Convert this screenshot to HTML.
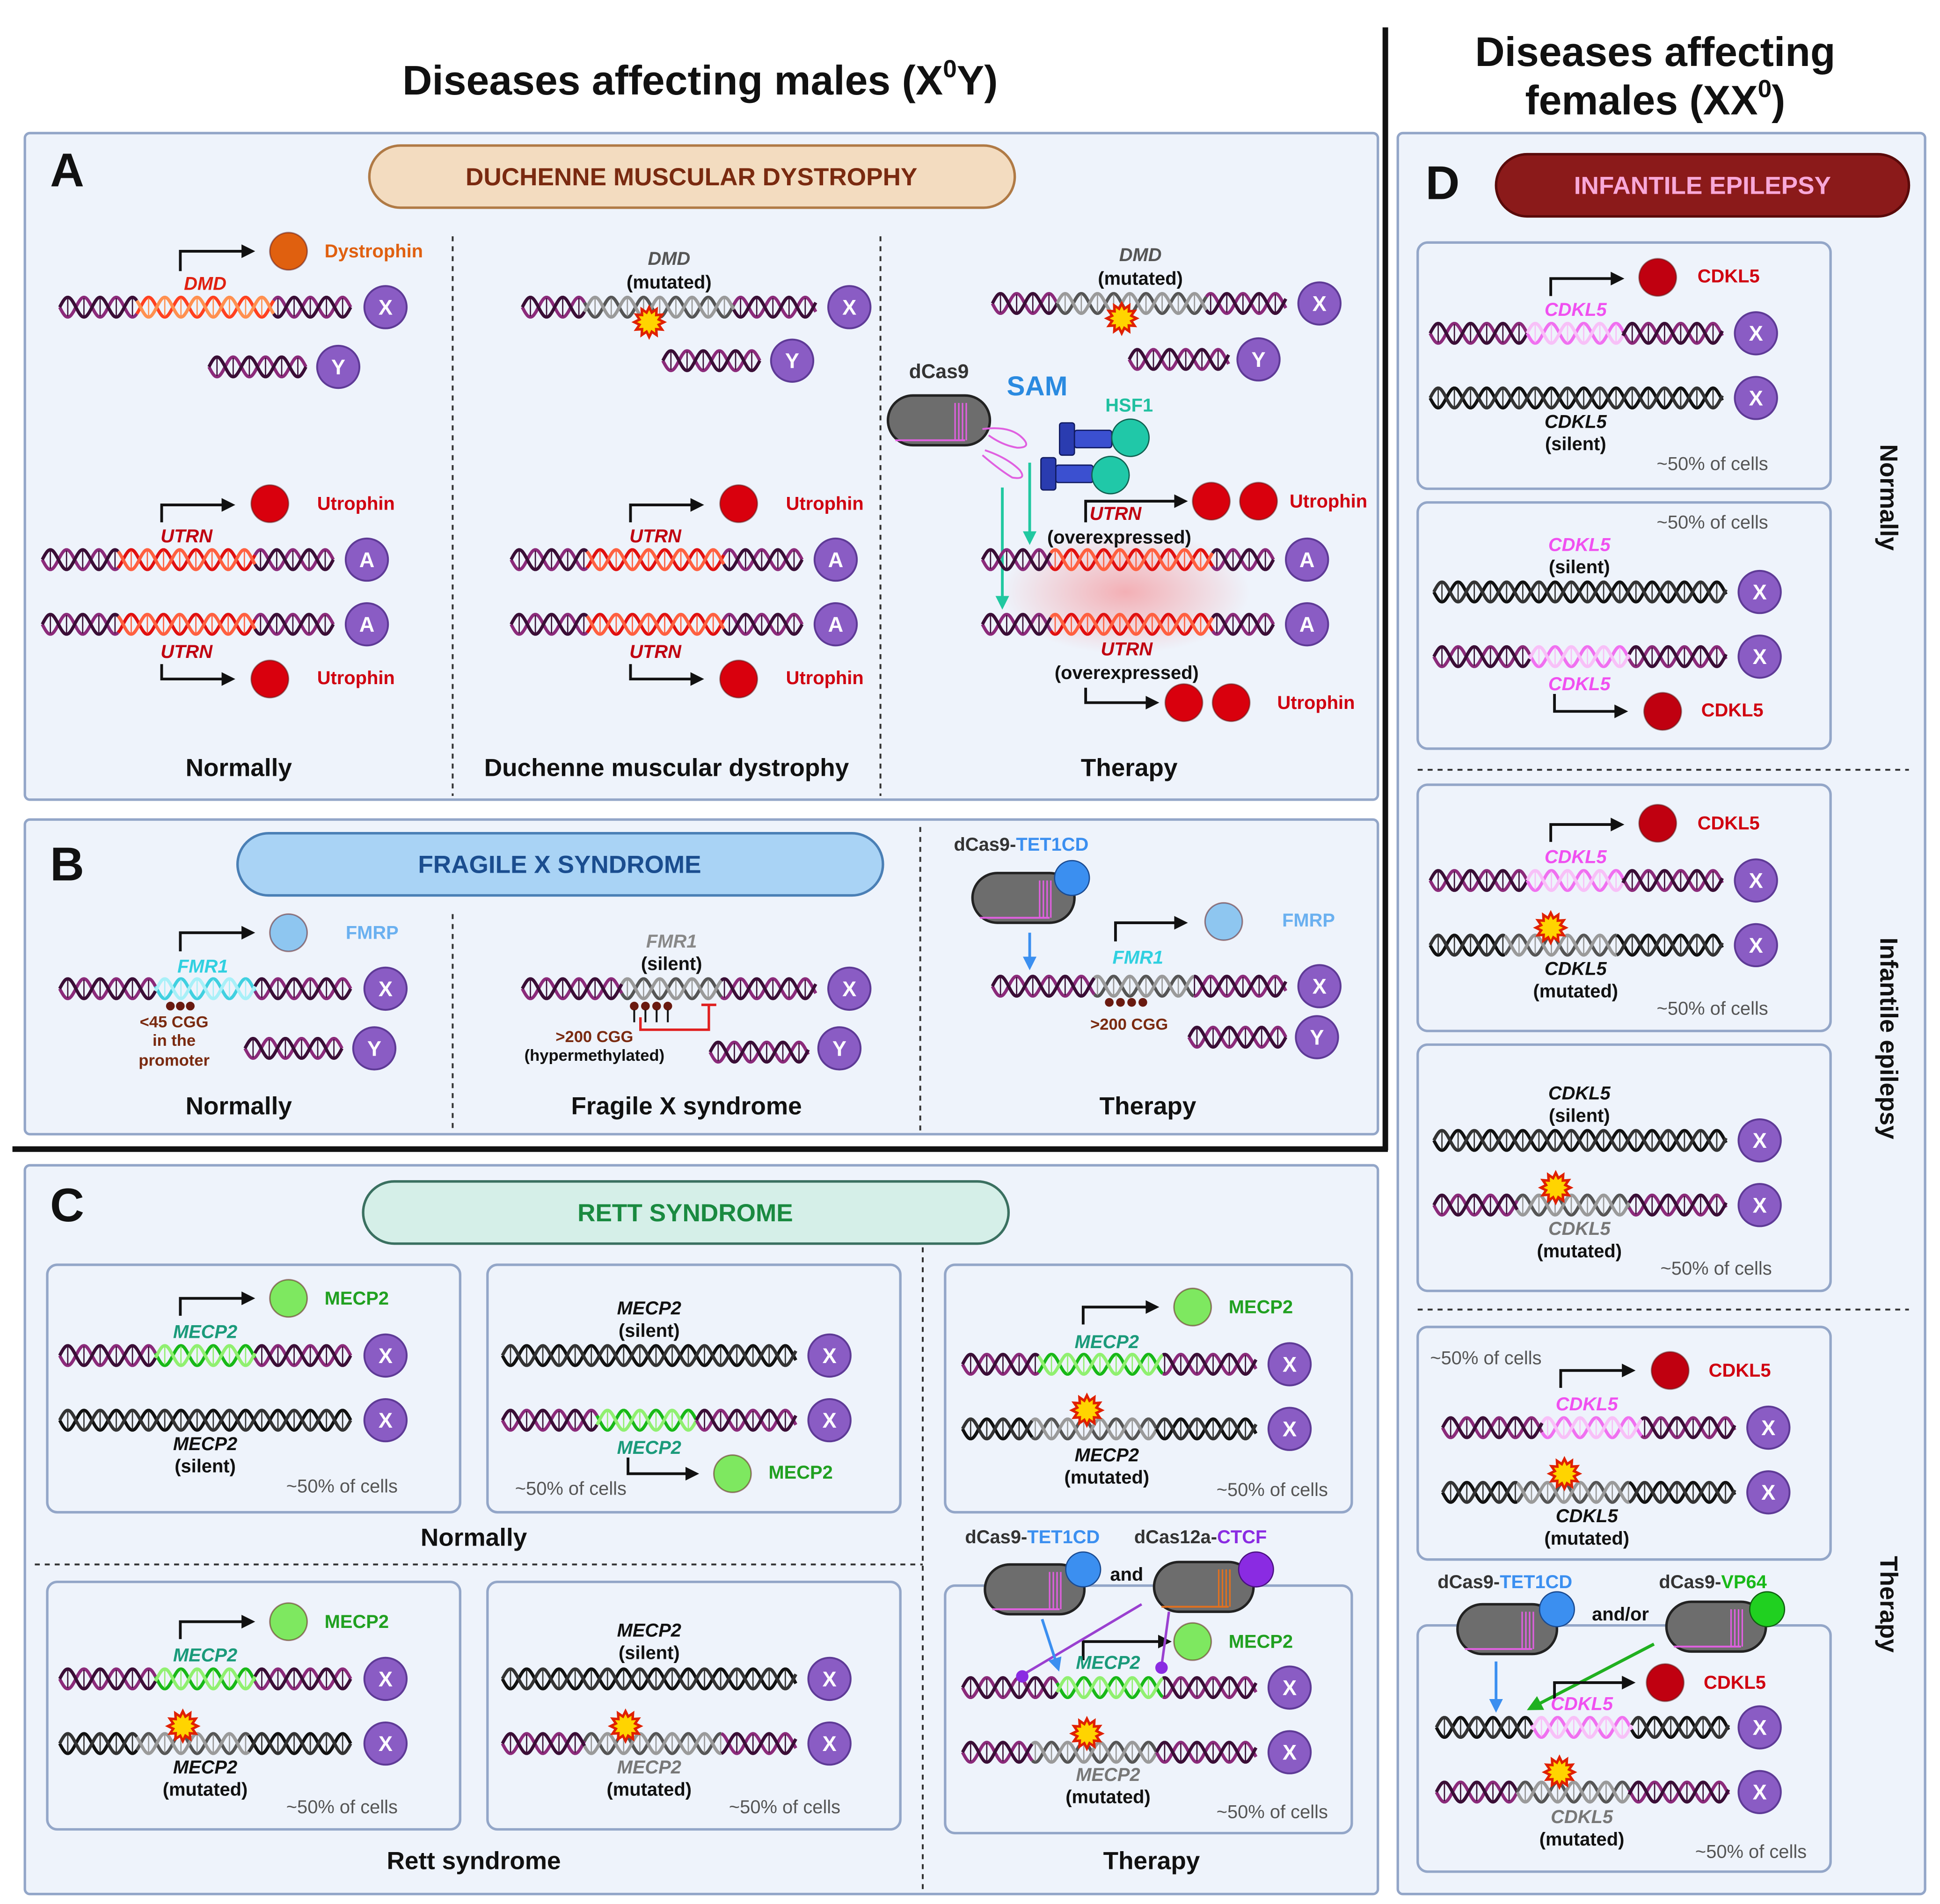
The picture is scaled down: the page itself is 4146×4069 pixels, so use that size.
<!DOCTYPE html>
<html><head><meta charset="utf-8">
<style>
html,body{margin:0;padding:0;background:#fff;}
svg{display:block;}
text{font-family:"Liberation Sans",sans-serif;}
</style></head>
<body>
<svg id="s" xmlns="http://www.w3.org/2000/svg" width="4146" height="4069" viewBox="0 0 1560 1531">
<defs>
<radialGradient id="glow"><stop offset="0" stop-color="#ff2020" stop-opacity="0.32"/><stop offset="1" stop-color="#ff2020" stop-opacity="0"/></radialGradient>
<marker id="ah" viewBox="0 0 10 10" refX="8" refY="5" markerWidth="5" markerHeight="5" orient="auto"><path d="M0 0L10 5L0 10z" fill="#111"/></marker>
<marker id="ahT" viewBox="0 0 10 10" refX="8" refY="5" markerWidth="5" markerHeight="5" orient="auto"><path d="M0 0L10 5L0 10z" fill="#20c8a0"/></marker>
<marker id="ahB" viewBox="0 0 10 10" refX="8" refY="5" markerWidth="5" markerHeight="5" orient="auto"><path d="M0 0L10 5L0 10z" fill="#3b8ff0"/></marker>
<marker id="ahG" viewBox="0 0 10 10" refX="8" refY="5" markerWidth="5" markerHeight="5" orient="auto"><path d="M0 0L10 5L0 10z" fill="#20b020"/></marker>
</defs>
<g id="g"></g>
</svg>
<script>
const G=document.getElementById('g');let H='';
function add(s){H+=s;}
function rect(x,y,w,h,r,fill,stroke,sw){add(`<rect x="${x}" y="${y}" width="${w}" height="${h}" rx="${r}" fill="${fill}" stroke="${stroke||'none'}" stroke-width="${sw||1.5}"/>`);}
function line(x1,y1,x2,y2,c,w,dash,mk){add(`<line x1="${x1}" y1="${y1}" x2="${x2}" y2="${y2}" stroke="${c}" stroke-width="${w}" ${dash?`stroke-dasharray="${dash}"`:''} ${mk?`marker-end="url(#${mk})"`:''}/>`);}
function t(x,y,s,o={}){const sz=o.s||15,c=o.c||'#111',w=o.w===undefined?'bold':o.w,st=o.i?'italic':'normal',a=o.a||'middle';add(`<text x="${x}" y="${y}" font-size="${sz}" fill="${c}" font-weight="${w}" font-style="${st}" text-anchor="${a}" ${o.tr?`transform="${o.tr}"`:''}>${s}</text>`);}
const COL={p:['#8b2a7a','#3a0e36'],k:['#111','#333'],r:['#e01010','#ff6040'],o:['#ff4020','#ff9050'],g:['#18b818','#90f070'],pk:['#f070f0','#f8c0f8'],gr:['#555','#9a9a9a'],c:['#40d0e0','#a8f0f8']};
function dna(x1,x2,y,base,segs){segs=segs||[];const P=26,A=8;let iv=[];let cur=x1;segs.sort((a,b)=>a[0]-b[0]);for(const s of segs){if(s[0]>cur)iv.push([cur,s[0],base]);iv.push(s);cur=s[1];}if(cur<x2)iv.push([cur,x2,base]);
for(const [a,b,c] of iv){const cc=COL[c];for(let k=0;k<2;k++){const sg=k?-1:1;let d='';for(let x=a;x<=b;x+=1){const yy=y+sg*A*Math.sin(2*Math.PI*(x-x1)/P);d+=(x==a?'M':'L')+x.toFixed(1)+' '+yy.toFixed(1);}add(`<path d="${d}" fill="none" stroke="${cc[k]}" stroke-width="2.6"/>`);}
for(let x=Math.ceil((a-x1)/6.5)*6.5+x1;x<=b;x+=6.5){const ph=Math.sin(2*Math.PI*(x-x1)/P);if(Math.abs(ph)>0.35)add(`<line x1="${x}" y1="${y-A*ph*0.9}" x2="${x}" y2="${y+A*ph*0.9}" stroke="${COL[c][1]}" stroke-width="1"/>`);}}}
function chrom(x,y,l){add(`<circle cx="${x}" cy="${y}" r="17" fill="#8a5cc4" stroke="#5e3a96" stroke-width="1.5"/>`);t(x,y+6,l,{s:17,c:'#fff'});}
function prot(x,y,c,r){add(`<circle cx="${x}" cy="${y}" r="${r||15}" fill="${c}" stroke="#5a1010" stroke-opacity="0.5" stroke-width="1.2"/>`);}
function arrUp(x,yb,yt,xe){add(`<path d="M${x} ${yb}V${yt}H${xe}" fill="none" stroke="#111" stroke-width="2.2" marker-end="url(#ah)"/>`);}
function arrDn(x,yt,yb,xe){add(`<path d="M${x} ${yt}V${yb}H${xe}" fill="none" stroke="#111" stroke-width="2.2" marker-end="url(#ah)"/>`);}
function star(x,y){let d='';for(let i=0;i<24;i++){const r=i%2?8:12,a=Math.PI*i/12;d+=(i?'L':'M')+(x+r*Math.cos(a)).toFixed(1)+' '+(y+r*Math.sin(a)).toFixed(1);}add(`<path d="${d}Z" fill="#ffd400" stroke="#e02000" stroke-width="2"/>`);}
function caps(x,y,w,h,gc){rect(x,y,w,h,h/2,'#6d6d6d','#222',2);for(let i=0;i<4;i++)line(x+w-28+i*3,y+6,x+w-28+i*3,y+h-4,gc||'#e060e0',1.2);line(x+6,y+h-4,x+w-20,y+h-4,gc||'#e060e0',1.5);}
const SUB='#eef3fb',SST='#93a6c8';

t(563,76,'Diseases affecting males (X<tspan font-size="20" dy="-14">0</tspan><tspan dy="14">Y)</tspan>',{s:33});
t(1331,53,'Diseases affecting',{s:33});
t(1331,92,'females (XX<tspan font-size="20" dy="-14">0</tspan><tspan dy="14">)</tspan>',{s:33});
rect(20,107,1088,536,4,'#eef3fb',SST,2);
rect(20,659,1088,253,4,'#eef3fb',SST,2);
rect(20,937,1088,586,4,'#eef3fb',SST,2);
rect(1124,107,424,1416,4,'#eef3fb',SST,2);
line(1114,22,1114,925,'#111',4.5);line(10,924,1116,924,'#111',4.5);
rect(297,117,519,50,25,'#f3dcc0','#b07a45',2);t(556,149,'DUCHENNE MUSCULAR DYSTROPHY',{s:20,c:'#7a2a10'});
rect(191,670,519,50,25,'#a9d3f5','#4a7fb5',2);t(450,702,'FRAGILE X SYNDROME',{s:20,c:'#1a4d8f'});
rect(292,950,519,50,25,'#d5efe8','#3a7060',2);t(551,982,'RETT SYNDROME',{s:20,c:'#1a8a40'});
rect(1203,124,332,50,25,'#8b1a1a','#5a0a0a',2);t(1369,156,'INFANTILE EPILEPSY',{s:20,c:'#f8a8d8'});
t(54,150,'A',{s:38});t(54,708,'B',{s:38});t(54,982,'C',{s:38});t(1160,160,'D',{s:38});
line(364,190,364,640,'#333',1.5,'4,4');line(708,190,708,640,'#333',1.5,'4,4');
line(364,735,364,910,'#333',1.5,'4,4');line(740,665,740,910,'#333',1.5,'4,4');
line(742,1003,742,1520,'#333',1.5,'4,4');line(28,1258,742,1258,'#333',1.5,'4,4');
line(1140,619,1535,619,'#333',1.5,'4,4');line(1140,1053,1535,1053,'#333',1.5,'4,4');

arrUp(145,218,202,203);prot(232,202,'#e0600f');t(261,207,'Dystrophin',{s:15,c:'#e06010',a:'start'});
t(165,233,'DMD',{i:1,c:'#e02010'});dna(48,282,247,'p',[[110,220,'o']]);chrom(310,247,'X');
dna(168,246,295,'p');chrom(272,295,'Y');
function utr(dx,dy){arrUp(130+dx,420,406,187+dx);prot(217+dx,405,'#d9000d');t(255+dx,410,'Utrophin',{s:15,c:'#d00010',a:'start'});
t(150+dx,436,'UTRN',{i:1,c:'#c00010'});dna(34+dx,268+dx,450,'p',[[95+dx,205+dx,'r']]);chrom(295+dx,450,'A');
dna(34+dx,268+dx,502,'p',[[95+dx,205+dx,'r']]);chrom(295+dx,502,'A');t(150+dx,529,'UTRN',{i:1,c:'#c00010'});
arrDn(130+dx,534,546,187+dx);prot(217+dx,546,'#d9000d');t(255+dx,550,'Utrophin',{s:15,c:'#d00010',a:'start'});}
utr(0);utr(377);
t(192,624,'Normally',{s:20});
t(538,213,'DMD',{i:1,c:'#555'});t(538,232,'(mutated)',{s:15});
dna(420,656,247,'p',[[470,590,'gr']]);star(522,259);chrom(683,247,'X');dna(533,611,290,'p');chrom(637,290,'Y');
t(536,624,'Duchenne muscular dystrophy',{s:20});
t(917,210,'DMD',{i:1,c:'#555'});t(917,229,'(mutated)',{s:15});
dna(798,1034,244,'p',[[850,970,'gr']]);star(902,256);chrom(1061,244,'X');dna(908,988,289,'p');chrom(1012,289,'Y');
t(755,304,'dCas9',{s:16,c:'#333'});caps(714,318,82,40);
add(`<path d="M790 345 Q812 342 822 352 Q830 360 818 360 Q806 358 795 350" fill="none" stroke="#e060e0" stroke-width="1.5"/>`);
add(`<path d="M792 362 Q810 368 820 378 Q826 386 814 384 Q804 378 790 366" fill="none" stroke="#e060e0" stroke-width="1.5"/>`);
t(834,318,'SAM',{s:22,c:'#2a8ae0'});t(908,331,'HSF1',{s:15,c:'#20c0a0'});
rect(852,340,12,26,2,'#2a3cb0','#101a60',1);rect(864,346,30,14,2,'#3b50d0','#101a60',1);add(`<circle cx="909" cy="352" r="15" fill="#20c8a8" stroke="#106050"/>`);
rect(837,368,12,26,2,'#2a3cb0','#101a60',1);rect(849,374,30,14,2,'#3b50d0','#101a60',1);add(`<circle cx="893" cy="382" r="15" fill="#20c8a8" stroke="#106050"/>`);
line(828,372,828,436,'#20c8a0',2.2,null,'ahT');line(806,392,806,488,'#20c8a0',2.2,null,'ahT');
add(`<ellipse cx="905" cy="476" rx="100" ry="50" fill="url(#glow)"/>`);
arrUp(873,420,403,953);prot(974,403,'#d9000d');prot(1012,403,'#d9000d');t(1037,408,'Utrophin',{s:15,c:'#d00010',a:'start'});
t(897,418,'UTRN',{i:1,c:'#c00010'});t(900,437,'(overexpressed)',{s:15});
dna(790,1024,450,'p',[[845,975,'r']]);chrom(1051,450,'A');dna(790,1024,502,'p',[[845,975,'r']]);chrom(1051,502,'A');
t(906,527,'UTRN',{i:1,c:'#c00010'});t(906,546,'(overexpressed)',{s:15});
arrDn(873,553,565,930);prot(952,565,'#d9000d');prot(990,565,'#d9000d');t(1027,570,'Utrophin',{s:15,c:'#d00010',a:'start'});
t(908,624,'Therapy',{s:20});

arrUp(145,765,750,203);prot(232,750,'#8ec6f0');t(278,755,'FMRP',{s:15,c:'#6ab0f0',a:'start'});
t(163,782,'FMR1',{i:1,c:'#30d0e0'});dna(48,282,795,'p',[[125,205,'c']]);
for(const x of [137,145,153])add(`<circle cx="${x}" cy="809" r="3.5" fill="#6a1a10"/>`);chrom(310,795,'X');
t(140,826,'&lt;45 CGG',{s:13,c:'#7a2a10'});t(140,841,'in the',{s:13,c:'#7a2a10'});t(140,857,'promoter',{s:13,c:'#7a2a10'});
dna(197,275,843,'p');chrom(301,843,'Y');t(192,896,'Normally',{s:20});
t(540,762,'FMR1',{i:1,c:'#888'});t(540,780,'(silent)',{s:15});
dna(420,656,795,'p',[[500,580,'gr']]);chrom(683,795,'X');
for(const x of [510,519,528,537]){add(`<circle cx="${x}" cy="809" r="3.5" fill="#6a1a10"/>`);line(x,812,x,822,'#111',1.5);}
add(`<path d="M515 818V828H570V808M564 808H576" fill="none" stroke="#e02020" stroke-width="2"/>`);
t(478,838,'&gt;200 CGG',{s:13,c:'#7a2a10'});t(478,853,'(hypermethylated)',{s:13,c:'#111'});
dna(571,650,846,'p');chrom(675,843,'Y');t(552,896,'Fragile X syndrome',{s:20});
t(767,684,'dCas9-<tspan fill="#3b8ff0">TET1CD</tspan>',{s:15,c:'#333',a:'start'});caps(782,702,82,40);add(`<circle cx="862" cy="706" r="14" fill="#3b8ff0" stroke="#1a4a90"/>`);
line(828,750,828,778,'#3b8ff0',2.2,null,'ahB');
arrUp(897,757,742,953);prot(984,741,'#8ec6f0');t(1031,745,'FMRP',{s:15,c:'#6ab0f0',a:'start'});
t(915,775,'FMR1',{i:1,c:'#30d0e0'});dna(798,1034,793,'p',[[880,960,'gr']]);chrom(1061,793,'X');
for(const x of [892,901,910,919])add(`<circle cx="${x}" cy="806" r="3.5" fill="#6a1a10"/>`);
t(908,828,'&gt;200 CGG',{s:13,c:'#7a2a10'});dna(956,1034,834,'p');chrom(1059,834,'Y');t(923,896,'Therapy',{s:20});

const gc='#7ee860',MT='#1a9a7a';
function pct(x,y,a){t(x,y,'~50% of cells',{s:15,c:'#555',w:'normal',a:a||'middle'});}
rect(38,1017,332,199,8,SUB,SST,2);rect(392,1017,332,199,8,SUB,SST,2);rect(760,1017,327,199,8,SUB,SST,2);
rect(38,1272,332,199,8,SUB,SST,2);rect(392,1272,332,199,8,SUB,SST,2);rect(760,1275,327,199,8,SUB,SST,2);
arrUp(145,1058,1044,203);prot(232,1044,gc);t(261,1049,'MECP2',{c:'#20a020',a:'start'});t(165,1076,'MECP2',{i:1,c:MT});
dna(48,282,1090,'p',[[125,205,'g']]);chrom(310,1090,'X');dna(48,282,1142,'k');chrom(310,1142,'X');
t(165,1166,'MECP2',{i:1});t(165,1184,'(silent)');pct(275,1200);
t(522,1057,'MECP2',{i:1});t(522,1075,'(silent)');dna(404,640,1090,'k');chrom(667,1090,'X');
dna(404,640,1142,'p',[[480,560,'g']]);chrom(667,1142,'X');t(522,1169,'MECP2',{i:1,c:MT});
arrDn(505,1172,1185,560);prot(589,1185,gc);t(618,1189,'MECP2',{c:'#20a020',a:'start'});pct(459,1202);
t(381,1243,'Normally',{s:20});
arrUp(871,1065,1051,930);prot(959,1051,gc);t(988,1056,'MECP2',{c:'#20a020',a:'start'});t(890,1084,'MECP2',{i:1,c:MT});
dna(774,1010,1097,'p',[[835,935,'g']]);chrom(1037,1097,'X');dna(774,1010,1149,'k',[[830,930,'gr']]);star(874,1134);chrom(1037,1149,'X');
t(890,1175,'MECP2',{i:1});t(890,1193,'(mutated)');pct(1023,1203);
arrUp(145,1318,1304,203);prot(232,1304,gc);t(261,1309,'MECP2',{c:'#20a020',a:'start'});t(165,1336,'MECP2',{i:1,c:MT});
dna(48,282,1350,'p',[[125,205,'g']]);chrom(310,1350,'X');dna(48,282,1402,'k',[[110,200,'gr']]);star(147,1388);chrom(310,1402,'X');
t(165,1426,'MECP2',{i:1});t(165,1444,'(mutated)');pct(275,1458);
t(522,1316,'MECP2',{i:1});t(522,1334,'(silent)');dna(404,640,1350,'k');chrom(667,1350,'X');
dna(404,640,1402,'p',[[470,580,'gr']]);star(503,1388);chrom(667,1402,'X');t(522,1426,'MECP2',{i:1,c:'#777'});t(522,1444,'(mutated)');pct(631,1458);
t(381,1503,'Rett syndrome',{s:20});
t(776,1241,'dCas9-<tspan fill="#3b8ff0">TET1CD</tspan>',{s:15,c:'#333',a:'start'});caps(792,1258,80,40);add(`<circle cx="871" cy="1262" r="14" fill="#3b8ff0" stroke="#1a4a90"/>`);
t(906,1271,'and',{s:15});t(912,1241,'dCas12a-<tspan fill="#8a2be2">CTCF</tspan>',{s:15,c:'#333',a:'start'});
caps(928,1256,80,40,'#e07020');add(`<circle cx="1010" cy="1262" r="14" fill="#8a2be2" stroke="#4a1080"/>`);
arrUp(871,1335,1320,940);prot(959,1320,gc);t(988,1325,'MECP2',{c:'#20a020',a:'start'});t(891,1342,'MECP2',{i:1,c:MT});
dna(774,1010,1357,'p',[[850,935,'g']]);chrom(1037,1357,'X');
add(`<path d="M918 1290L822 1347" stroke="#9a40d0" stroke-width="2" fill="none"/><circle cx="822" cy="1348" r="5" fill="#8a2be2"/>`);
add(`<path d="M940 1296L934 1340" stroke="#9a40d0" stroke-width="2" fill="none"/><circle cx="934" cy="1341" r="5" fill="#8a2be2"/>`);
line(838,1302,851,1342,'#3b8ff0',2.2,null,'ahB');
dna(774,1010,1409,'p',[[830,930,'gr']]);star(874,1394);chrom(1037,1409,'X');
t(891,1432,'MECP2',{i:1,c:'#777'});t(891,1450,'(mutated)');pct(1023,1462);t(926,1503,'Therapy',{s:20});

const CR='#c00010',CT='#d00010',MG='#f050f0';
[[1140,195,198],[1140,404,198],[1140,631,198],[1140,840,198],[1140,1067,187],[1140,1307,198]].forEach(a=>rect(a[0],a[1],332,a[2],8,SUB,SST,2));
arrUp(1247,238,224,1304);prot(1333,223,CR);t(1365,227,'CDKL5',{c:CT,a:'start'});t(1267,254,'CDKL5',{i:1,c:MG});
dna(1150,1385,268,'p',[[1228,1305,'pk']]);chrom(1412,268,'X');dna(1150,1385,320,'k');chrom(1412,320,'X');
t(1267,344,'CDKL5',{i:1});t(1267,362,'(silent)');pct(1377,378);
pct(1377,425);t(1270,443,'CDKL5',{i:1,c:MG});t(1270,461,'(silent)');dna(1153,1388,476,'k');chrom(1415,476,'X');
dna(1153,1388,528,'p',[[1230,1310,'pk']]);chrom(1415,528,'X');t(1270,555,'CDKL5',{i:1,c:MG});
arrDn(1250,558,572,1307);prot(1337,572,CR);t(1368,576,'CDKL5',{c:CT,a:'start'});
arrUp(1247,677,663,1304);prot(1333,662,CR);t(1365,667,'CDKL5',{c:CT,a:'start'});t(1267,694,'CDKL5',{i:1,c:MG});
dna(1150,1385,708,'p',[[1228,1305,'pk']]);chrom(1412,708,'X');dna(1150,1385,760,'k',[[1210,1300,'gr']]);star(1247,746);chrom(1412,760,'X');
t(1267,784,'CDKL5',{i:1});t(1267,802,'(mutated)');pct(1377,816);
t(1270,884,'CDKL5',{i:1});t(1270,902,'(silent)');dna(1153,1388,917,'k');chrom(1415,917,'X');
dna(1153,1388,969,'p',[[1220,1310,'gr']]);star(1251,955);chrom(1415,969,'X');t(1270,993,'CDKL5',{i:1,c:'#777'});t(1270,1011,'(mutated)');pct(1380,1025);
pct(1150,1097,'start');arrUp(1255,1116,1102,1313);prot(1343,1102,CR);t(1374,1107,'CDKL5',{c:CT,a:'start'});t(1276,1134,'CDKL5',{i:1,c:MG});
dna(1160,1395,1148,'p',[[1240,1320,'pk']]);chrom(1422,1148,'X');dna(1160,1395,1200,'k',[[1220,1310,'gr']]);star(1258,1185);chrom(1422,1200,'X');
t(1276,1224,'CDKL5',{i:1});t(1276,1242,'(mutated)');
t(1156,1277,'dCas9-<tspan fill="#3b8ff0">TET1CD</tspan>',{s:15,c:'#333',a:'start'});caps(1172,1290,80,40);add(`<circle cx="1252" cy="1294" r="14" fill="#3b8ff0" stroke="#1a4a90"/>`);
t(1303,1303,'and/or',{s:15});t(1334,1277,'dCas9-<tspan fill="#18b818">VP64</tspan>',{s:15,c:'#333',a:'start'});
caps(1340,1288,80,40);add(`<circle cx="1421" cy="1294" r="14" fill="#20d020" stroke="#106010"/>`);
line(1203,1336,1203,1375,'#3b8ff0',2.2,null,'ahB');line(1330,1322,1230,1374,'#20b020',2.5,null,'ahG');
arrUp(1250,1366,1353,1313);prot(1339,1353,CR);t(1370,1358,'CDKL5',{c:CT,a:'start'});t(1272,1375,'CDKL5',{i:1,c:MG});
dna(1155,1390,1389,'k',[[1232,1312,'pk']]);chrom(1415,1389,'X');dna(1155,1390,1441,'p',[[1220,1310,'gr']]);star(1254,1425);chrom(1415,1441,'X');
t(1272,1466,'CDKL5',{i:1,c:'#777'});t(1272,1484,'(mutated)');pct(1408,1494);
t(1512,400,'Normally',{s:20,tr:'rotate(90 1512 400)'});
t(1512,835,'Infantile epilepsy',{s:20,tr:'rotate(90 1512 835)'});
t(1512,1290,'Therapy',{s:20,tr:'rotate(90 1512 1290)'});
G.innerHTML=H;
</script>
</body></html>
